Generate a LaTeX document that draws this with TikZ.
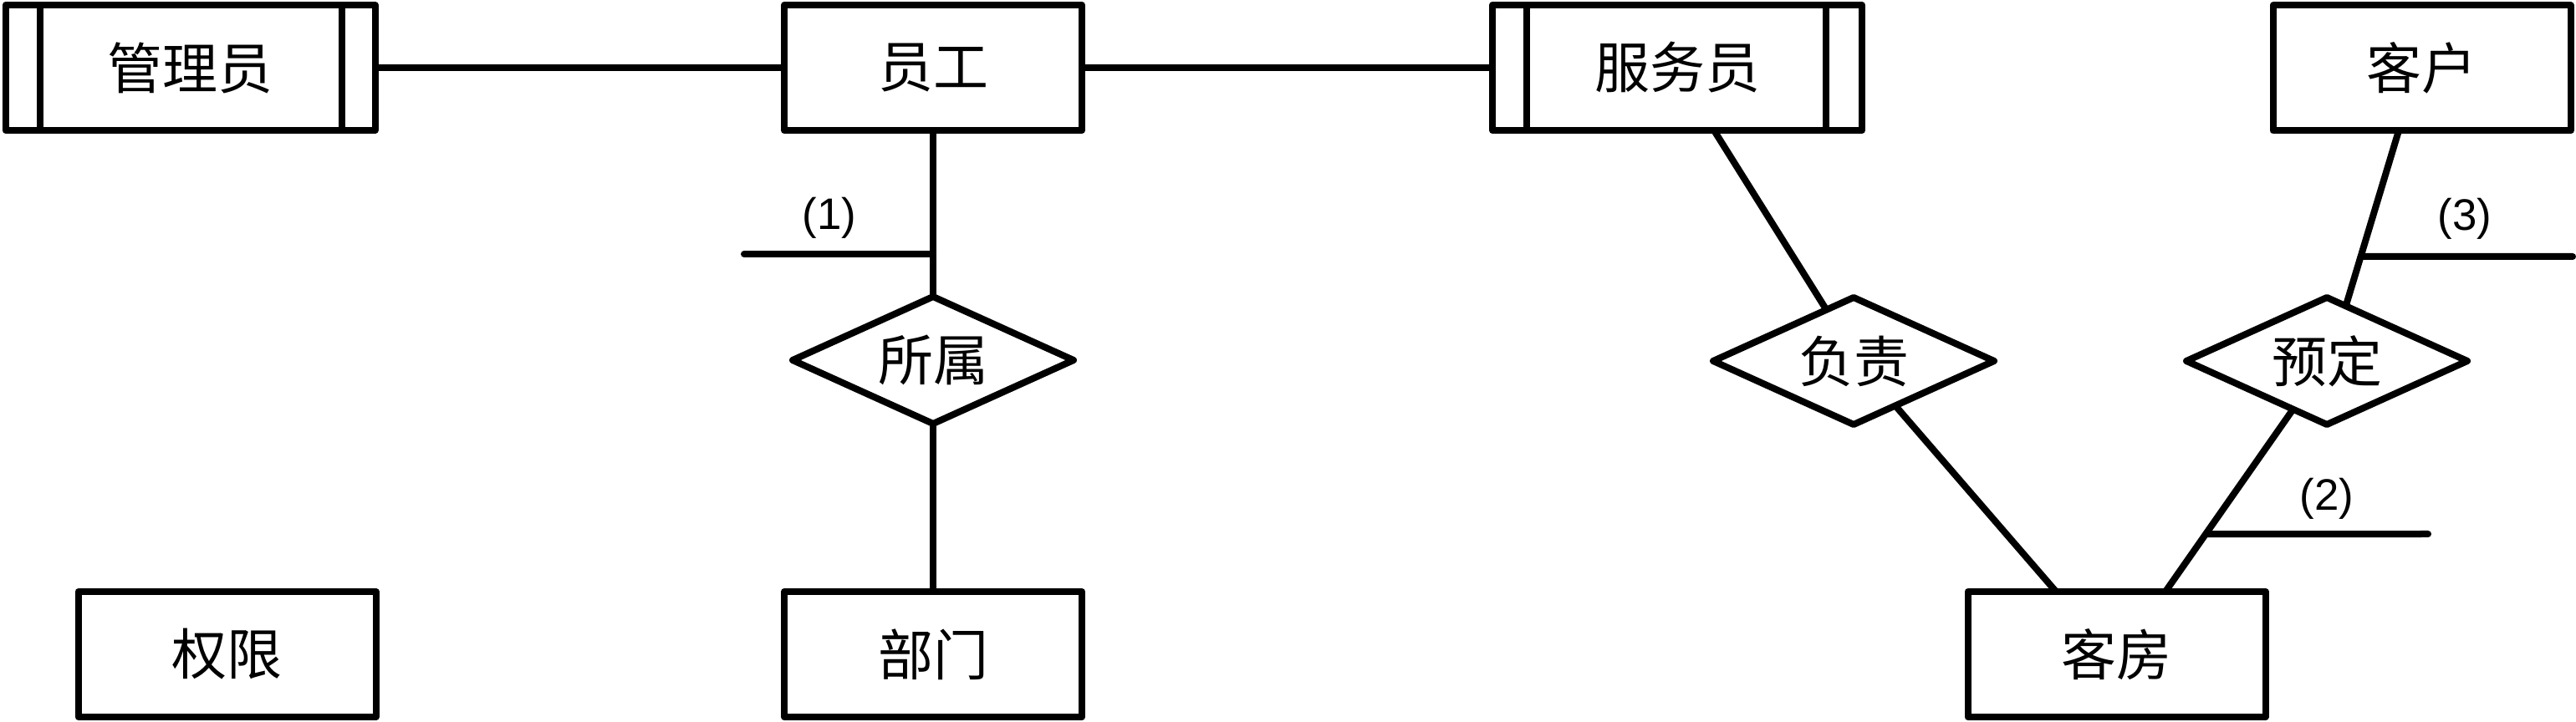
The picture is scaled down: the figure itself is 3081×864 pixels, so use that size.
\documentclass[tikz,border=0pt]{standalone}
\usepackage{fontspec}
\setmainfont{Liberation Sans}
\newfontfamily\cjk{Noto Sans CJK SC}
\usetikzlibrary{shapes.geometric,calc}
\tikzset{
  every path/.style={line width=2pt, line join=round, line cap=round},
  ent/.style={draw, line width=2pt, rectangle, outer sep=0pt, inner sep=0pt,
    minimum width=89pt, minimum height=37.5pt, font=\cjk\fontsize{16.5}{20}\selectfont},
  wideent/.style={ent, minimum width=110.5pt},
  rel/.style={draw, line width=2pt, diamond, aspect=2.2, outer sep=0pt, inner sep=0pt,
    minimum width=84pt, minimum height=38pt, font=\cjk\fontsize{16.5}{20}\selectfont},
  lbl/.style={font=\fontsize{13.2}{15}\selectfont, inner sep=0pt},
  conn/.style={draw, line width=2pt, line cap=butt},
  tick/.style={draw, line width=2pt, line cap=round}
}
\begin{document}
\begin{tikzpicture}[x=0.25pt, y=-0.25pt]
\useasboundingbox (0,0) rectangle (3081,864);
% entities
\node[wideent] (gly) at (227.5,81) {管理员};
\node[ent] (yg) at (1116,81) {员工};
\node[wideent] (fwy) at (2006,81) {服务员};
\node[ent] (kh) at (2896.5,81.5) {客户};
\node[ent] (qx) at (271.5,783) {权限};
\node[ent] (bm) at (1116,783) {部门};
\node[ent] (kf) at (2531.5,783) {客房};
% weak-entity bars
\draw ([xshift=10.25pt]gly.north west) -- ([xshift=10.25pt]gly.south west);
\draw ([xshift=-10pt]gly.north east) -- ([xshift=-10pt]gly.south east);
\draw ([xshift=10.25pt]fwy.north west) -- ([xshift=10.25pt]fwy.south west);
\draw ([xshift=-10.75pt]fwy.north east) -- ([xshift=-10.75pt]fwy.south east);
% relationships
\node[rel] (ss) at (1116,431) {所属};
\node[rel] (fz) at (2217,432) {负责};
\node[rel] (yd) at (2783,432) {预定};
% connectors
\draw[conn] (gly.east) -- (yg.west);
\draw[conn] (yg.east) -- (fwy.west);
\draw[conn] (yg.south) -- (ss.north);
\draw[conn] (ss.south) -- (bm.north);
\coordinate (a1) at ([xshift=11pt]fwy.south);
\draw[conn] (a1) -- (fz.118);
\coordinate (a2) at ([xshift=-18.1pt]kf.north);
\draw[conn] (fz.-47.7) -- (a2);
\coordinate (a3) at ([xshift=-6.9pt]kh.south);
\coordinate (b3) at (yd.71.6);
\draw[conn] (a3) -- (b3);
\coordinate (a4) at ([xshift=14.6pt]kf.north);
\coordinate (b4) at (yd.235.5);
\draw[conn] (b4) -- (a4);
% answer ticks
\coordinate (t1) at (890,304);
\draw[tick] (t1) -- (t1 -| yg.south);
\coordinate (t3) at (3077,307);
\coordinate (t3b) at (2700,307);
\draw[tick] (t3) -- (intersection of t3--t3b and a3--b3);
\coordinate (t2) at (2904,639);
\coordinate (t2b) at (2500,639);
\draw[tick] (t2) -- (intersection of t2--t2b and a4--b4);
% labels
\node[lbl] (l1) at (992,261) {(1)};
\node[lbl] (l2) at (2783,597) {(2)};
\node[lbl] (l3) at (2948,262) {(3)};
\end{tikzpicture}
\end{document}
